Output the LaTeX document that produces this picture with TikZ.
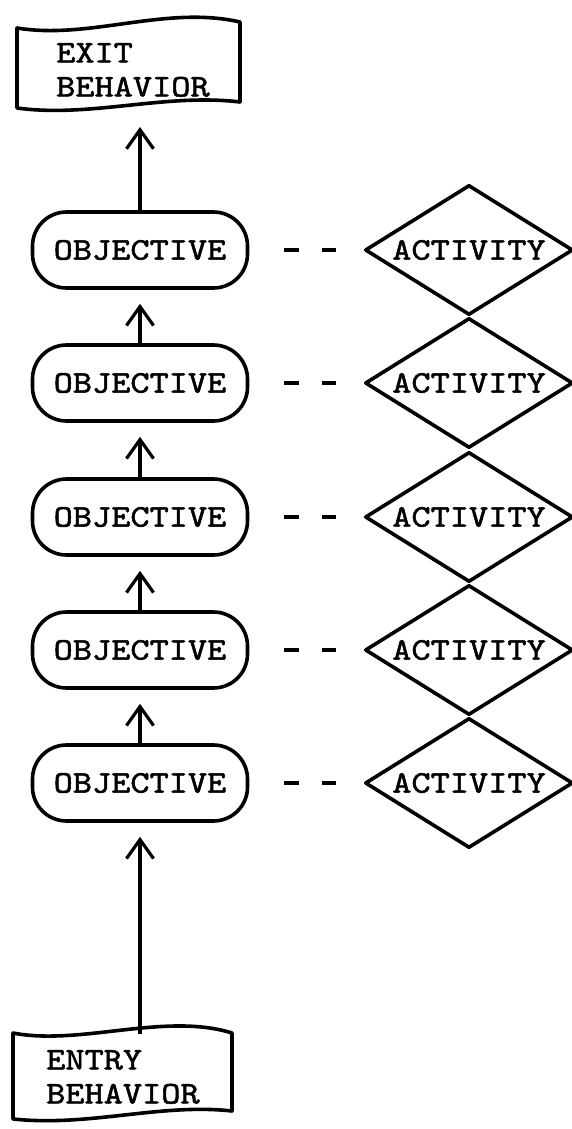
\documentclass[tikz,border=0pt]{standalone}
\usepackage{fontspec}
\newfontfamily\typer[FakeBold=1.6, FakeStretch=1.16]{lmmono10-regular.otf}
\usetikzlibrary{arrows.meta,shapes.geometric}
\tikzset{
  outline/.style={line width=3.6pt, line join=round},
  typed/.style={font=\typer\fontsize{31.5}{34}\selectfont},
  objbox/.style={outline, draw, typed, rounded corners=34pt,
    minimum width=215pt, minimum height=76pt, inner sep=0pt},
  actbox/.style={outline, draw, typed, diamond, aspect=1.6,
    minimum width=208pt, minimum height=130pt, inner sep=0pt},
  flagtext/.style={typed, align=left, inner sep=0pt, anchor=north west},
  up/.style={line width=3.2pt, -{Straight Barb[length=19pt, width=27pt]}},
  link/.style={line width=3.4pt, dash pattern=on 15pt off 23pt,
    shorten <=35pt, shorten >=27pt},
}
\begin{document}
\begin{tikzpicture}[x=1pt, y=-1pt]
    \useasboundingbox (0,0) rectangle (572,1129);
    % exit behavior
    \draw[outline] (17,28) .. controls (90,40) and (165,5) .. (240,22)
      -- (240,102) .. controls (165,93) and (90,118) .. (17,108) -- cycle;
    \node[flagtext] (exit) at (56,43) {EXIT\\BEHAVIOR};
    \coordinate (exittip) at (140,127);
    % objectives and activities
    \foreach \i/\y in {1/250, 2/383, 3/517, 4/650, 5/783} {
      \node[objbox] (obj\i) at (140,\y) {OBJECTIVE};
      \node[actbox] (act\i) at (469,\y) {ACTIVITY};
      \draw[link] (obj\i) -- (act\i);
    }
    \draw[up] (obj1.north) -- (exittip);
    \foreach \i/\j in {2/1, 3/2, 4/3, 5/4}
      \draw[up] (obj\i.north) -- ([yshift=-14pt]obj\j.south);
    % entry behavior
    \draw[outline] (13,1033) .. controls (80,1046) and (165,1012) .. (232,1033)
      -- (232,1111) .. controls (160,1103) and (90,1127) .. (13,1119) -- cycle;
    \node[flagtext] (entry) at (46,1050) {ENTRY\\BEHAVIOR};
    \coordinate (entrytop) at (140,1034);
    \draw[up] (entrytop) -- ([yshift=-14pt]obj5.south);
\end{tikzpicture}
\end{document}
